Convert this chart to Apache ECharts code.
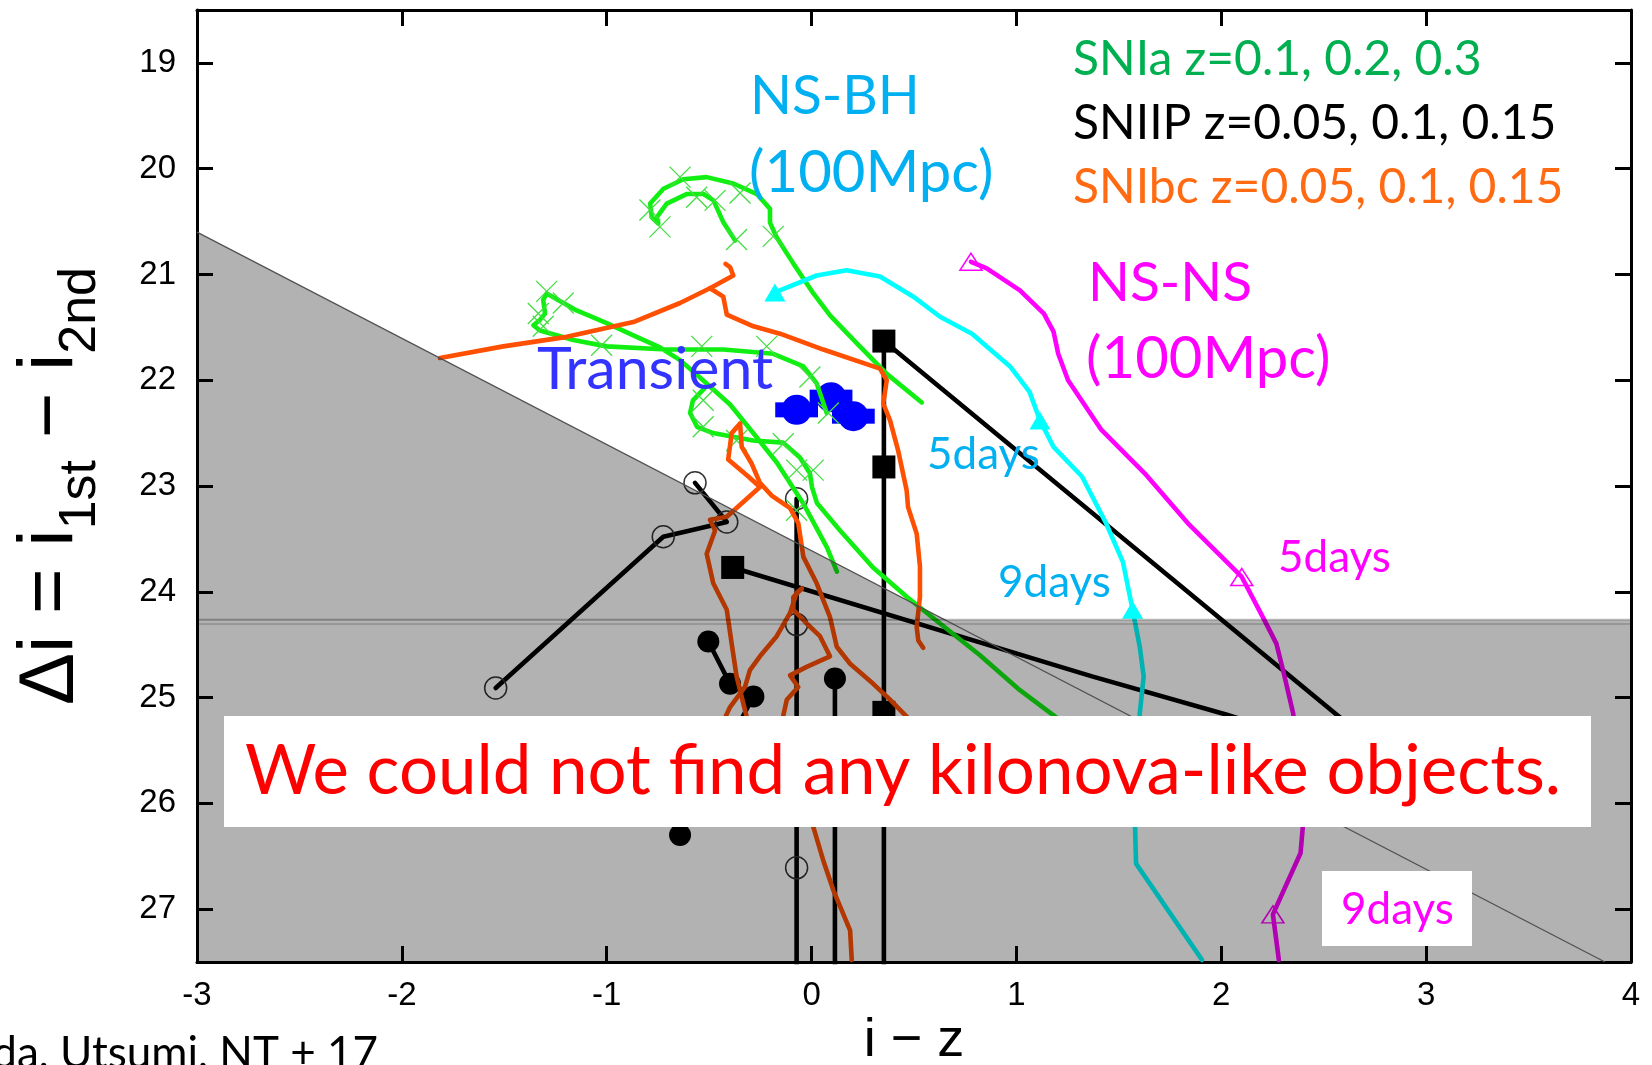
<!DOCTYPE html>
<html>
<head>
<meta charset="utf-8">
<script src="https://cdn.jsdelivr.net/npm/echarts@6/dist/echarts.min.js"></script>
<style>
  html, body { margin: 0; padding: 0; background: #fff; overflow: hidden; }
  #chart { width: 1652px; height: 1065px; }
</style>
</head>
<body>
<div id="chart"></div>
<script>
// ---- axis ticks ----
const xTicks = [-3, -2, -1, 0, 1, 2, 3, 4];
const yTicks = [19, 20, 21, 22, 23, 24, 25, 26, 27];

// ---- SNIa colour tracks (i - z, delta i) ----
const snIaHook = [[-0.373,20.68],[-0.430,20.51],[-0.479,20.30],[-0.528,20.24],[-0.610,20.24],[-0.707,20.33],[-0.756,20.46],[-0.748,20.52],[-0.780,20.46],[-0.788,20.33],[-0.723,20.19],[-0.626,20.10],[-0.512,20.08],[-0.382,20.14],[-0.267,20.24],[-0.203,20.38],[-0.203,20.51],[-0.170,20.65],[-0.088,20.90],[0.009,21.18],[0.091,21.39],[0.220,21.65],[0.367,21.94],[0.538,22.21]];
const snIaCusp = [[0.074,22.31],[0.025,22.03],[-0.040,21.87],[-0.187,21.75],[-0.431,21.71],[-0.707,21.71],[-1.000,21.68],[-1.163,21.62],[-1.326,21.53],[-1.358,21.48],[-1.326,21.43],[-1.301,21.37],[-1.310,21.24],[-1.293,21.18],[-1.147,21.34],[-1.000,21.46],[-0.854,21.59],[-0.740,21.69],[-0.642,21.81],[-0.530,22.00],[-0.398,22.23],[-0.276,22.52],[-0.169,22.78],[-0.042,23.16],[0.075,23.58],[0.124,23.81]];
const snIaLoop = [[-0.520,22.07],[-0.579,22.19],[-0.593,22.31],[-0.559,22.44],[-0.481,22.50],[-0.286,22.57],[-0.139,22.59],[-0.057,22.73],[-0.008,22.88],[0.002,23.01],[0.026,23.16],[0.139,23.42],[0.300,23.77],[0.466,24.05],[0.627,24.30],[0.822,24.60],[1.017,24.93],[1.183,25.17],[1.359,25.45]];
const snIaEpochs = [[-0.789,20.39],[-0.740,20.55],[-0.642,20.08],[-0.561,20.27],[-0.471,20.30],[-0.366,20.67],[-0.349,20.23],[-0.187,20.64],[-1.293,21.16],[-1.212,21.27],[-1.334,21.37],[-1.310,21.49],[-1.025,21.67],[-0.536,21.68],[-0.219,21.68],[-0.008,21.97],[0.082,22.31],[-0.529,22.19],[-0.529,22.44],[-0.366,22.57],[-0.138,22.60],[-0.073,22.85],[0.008,22.85],[-0.073,23.23]];

// ---- SNIIP tracks ----
const iipOpenA = [[-1.542,24.91],[-0.724,23.48],[-0.414,23.34],[-0.569,22.97]];
const iipOpenB = [[-0.073,23.12],[-0.073,24.31],[-0.073,26.61],[-0.073,28.6]];
const iipOpenPts = [[-1.542,24.91],[-0.724,23.48],[-0.414,23.34],[-0.569,22.97],[-0.073,23.12],[-0.073,24.31],[-0.073,26.61]];
const iipDotC = [[-0.504,24.47],[-0.398,24.87],[-0.284,24.99],[-0.642,26.30]];
const iipDotD = [[0.114,24.82],[0.114,28.6]];
const iipDotPts = [[-0.504,24.47],[-0.398,24.87],[-0.284,24.99],[-0.642,26.30],[0.114,24.82]];
const iipSqE = [[2.75,25.46],[0.353,21.63],[0.353,22.82],[0.353,25.14],[0.353,28.6]];
const iipSqF = [[-0.385,23.77],[1.369,24.80],[2.023,25.16],[2.30,25.33]];
const iipSqPts = [[0.353,21.63],[0.353,22.82],[0.353,25.14],[-0.385,23.77]];

// ---- SNIbc tracks ----
const ibcA = [[-1.814,21.79],[-1.505,21.68],[-1.195,21.59],[-0.870,21.45],[-0.642,21.27],[-0.496,21.13],[-0.382,21.01],[-0.398,20.93],[-0.420,20.90]];
const ibcB = [[-0.496,21.13],[-0.431,21.21],[-0.414,21.38],[-0.284,21.49],[-0.154,21.56],[0.057,21.71],[0.334,21.89],[0.367,22.00],[0.350,22.22],[0.383,22.38],[0.422,22.66],[0.464,23.04],[0.471,23.20],[0.513,23.45],[0.529,23.76],[0.529,24.05],[0.513,24.33],[0.521,24.46],[0.545,24.53]];
const ibcC = [[-0.349,22.41],[-0.390,22.50],[-0.407,22.75],[-0.309,22.91],[-0.252,23.01],[-0.414,23.29],[-0.496,23.32],[-0.471,23.42],[-0.512,23.64],[-0.480,23.92],[-0.414,24.17],[-0.390,24.49],[-0.366,24.80],[-0.317,25.18],[-0.276,25.59]];
const ibcD = [[-0.349,22.41],[-0.341,22.63],[-0.292,22.79],[-0.252,22.97],[-0.195,23.09],[-0.105,23.21],[-0.065,23.35],[-0.040,23.67],[0.025,23.92],[0.090,24.24],[0.123,24.52],[0.188,24.68],[0.301,24.87],[0.383,25.02],[0.464,25.18],[0.578,25.40]];
const ibcE = [[-0.048,23.97],[-0.089,24.05],[-0.089,24.17],[-0.024,24.30],[0.041,24.42],[0.090,24.61],[-0.024,24.71],[-0.105,24.79],[-0.065,24.90],[-0.121,25.02],[-0.138,25.17],[-0.081,25.68],[0.008,26.22],[0.057,26.54],[0.106,26.82],[0.188,27.20],[0.196,27.48]];
const ibcF = [[-0.048,23.97],[-0.073,24.01],[-0.105,24.20],[-0.170,24.42],[-0.252,24.61],[-0.301,24.74],[-0.325,24.90],[-0.398,25.09],[-0.472,25.40]];

// ---- kilonova models at 100 Mpc ----
const nsbh = [[-0.179,21.17],[0.025,21.01],[0.171,20.96],[0.334,21.02],[0.497,21.21],[0.627,21.40],[0.783,21.56],[0.969,21.87],[1.064,22.11],[1.115,22.38],[1.181,22.63],[1.320,22.91],[1.437,23.35],[1.520,23.72],[1.567,24.17],[1.602,24.52],[1.621,24.80],[1.602,25.15],[1.579,26.22],[1.584,26.57],[1.906,27.48]];
const nsbhDays = [[-0.179,21.17],[1.115,22.38],[1.567,24.17]];
const nsns = [[0.778,20.88],[0.853,20.94],[1.017,21.15],[1.134,21.37],[1.181,21.54],[1.204,21.75],[1.252,22.00],[1.415,22.47],[1.626,22.88],[1.836,23.35],[2.100,23.86],[2.211,24.27],[2.269,24.49],[2.305,24.77],[2.351,25.15],[2.398,26.22],[2.387,26.47],[2.252,27.05],[2.281,27.48]];
const nsnsDays = [[0.778,20.88],[2.100,23.86],[2.252,27.05]];

// ---- the observed transient ----
const transient = [[-0.073,22.28],[0.095,22.16],[0.204,22.34]];
const transientErr = [0.08, 0.08, 0.08];

// ---- excluded (shaded) region ----
const shadeX = [-3, 0.655, 4, 4, -3];
const shadeY = [20.60, 24.27, 24.27, 27.5, 27.5];
const cutDiag = [[-3, 20.60], [3.873, 27.5]];
const cutFlatA = [[-3, 24.265], [4, 24.265]];
const cutFlatB = [[-3, 24.305], [4, 24.305]];

const GREEN = '#11ee11', ORANGE = '#ff4f00', CYAN = '#00ffff', MAGENTA = '#ff00ff';
const LINE_W = 4.6;

function track(data, color, z) {
  return { type: 'line', data: data, showSymbol: false, symbol: 'none', clip: true, silent: true,
    lineStyle: { color: color, width: LINE_W, cap: 'round', join: 'round' }, z: z, animation: false };
}
function marks(data, symbol, size, itemStyle, z) {
  return { type: 'scatter', data: data, symbol: symbol, symbolSize: size, clip: true, silent: true,
    itemStyle: Object.assign({ opacity: 1 }, itemStyle), z: z, animation: false };
}

const series = [
  // transient with error bars
  { type: 'custom', z: 2, silent: true, animation: false,
    data: transient.map((p, i) => [p[0], p[1], transientErr[i]]),
    renderItem: function (params, api) {
      const x = api.value(0), y = api.value(1), e = api.value(2);
      const a = api.coord([x - e, y]), b = api.coord([x + e, y]);
      return { type: 'group', children: [
        { type: 'line', shape: { x1: a[0], y1: a[1], x2: b[0], y2: b[1] }, style: { stroke: '#0000ff', lineWidth: 5 } },
        { type: 'rect', shape: { x: a[0] - 5, y: a[1] - 7.5, width: 10, height: 15 }, style: { fill: '#0000ff' } },
        { type: 'rect', shape: { x: b[0] - 5, y: b[1] - 7.5, width: 10, height: 15 }, style: { fill: '#0000ff' } }
      ]};
    } },
  marks(transient, 'circle', 30, { color: '#0000ff' }, 2),

  track(iipOpenA, '#000', 3), track(iipOpenB, '#000', 3),
  track(iipDotC, '#000', 3), track(iipDotD, '#000', 3),
  track(iipSqE, '#000', 3), track(iipSqF, '#000', 3),
  marks(iipOpenPts, 'circle', 22, { color: 'rgba(0,0,0,0)', borderColor: '#333', borderWidth: 1.5 }, 3),
  marks(iipDotPts, 'circle', 22, { color: '#000' }, 3),
  marks(iipSqPts, 'rect', 23, { color: '#000' }, 3),

  track(snIaHook, GREEN, 4), track(snIaCusp, GREEN, 4), track(snIaLoop, GREEN, 4),
  marks(snIaEpochs, 'path://M0,0L10,10M10,0L0,10', 21,
    { color: 'rgba(0,0,0,0)', borderColor: '#44dd44', borderWidth: 1.3 }, 4),

  track(ibcA, ORANGE, 5), track(ibcB, ORANGE, 5), track(ibcC, ORANGE, 5),
  track(ibcD, ORANGE, 5), track(ibcE, ORANGE, 5), track(ibcF, ORANGE, 5),

  track(nsbh, CYAN, 6),
  marks(nsbhDays, 'triangle', [21, 18], { color: CYAN }, 6),
  track(nsns, MAGENTA, 6),
  marks(nsnsDays, 'triangle', [22, 17], { color: 'rgba(0,0,0,0)', borderColor: MAGENTA, borderWidth: 1.5 }, 6),

  // excluded region drawn as a translucent shade over the tracks
  { type: 'custom', z: 20, silent: true, clip: true, animation: false, data: [[0, 0]],
    renderItem: function (params, api) {
      return { type: 'polygon',
        shape: { points: shadeX.map((x, i) => api.coord([x, shadeY[i]])) },
        style: { fill: 'rgba(0,0,0,0.3)' } };
    } },
  { type: 'line', data: cutDiag, symbol: 'none', silent: true, z: 21, animation: false,
    lineStyle: { color: '#505050', width: 1.2 } },
  { type: 'line', data: cutFlatA, symbol: 'none', silent: true, z: 21, animation: false,
    lineStyle: { color: 'rgba(0,0,0,0.28)', width: 2 } },
  { type: 'line', data: cutFlatB, symbol: 'none', silent: true, z: 21, animation: false,
    lineStyle: { color: 'rgba(0,0,0,0.2)', width: 1.5 } }
];

const AXIS_FONT = 'Liberation Sans, Arial, sans-serif';
const LABEL_FONT = 'Lato, sans-serif';

function xAx(pos, showLabels, name) {
  return {
    type: 'value', position: pos, min: -3, max: 4, interval: 1,
    axisLine: { show: true, onZero: false, lineStyle: { color: '#000', width: 3 } },
    axisTick: { show: true, inside: true, length: 16, lineStyle: { color: '#000', width: 3 } },
    axisLabel: { show: showLabels, fontSize: 33, fontFamily: AXIS_FONT, color: '#000', margin: 17 },
    splitLine: { show: false },
    name: name || '', nameLocation: 'middle', nameGap: 52, nameMoveOverlap: false,
    nameTextStyle: { fontSize: 54, lineHeight: 54, fontFamily: AXIS_FONT, color: '#000' }
  };
}
function yAx(pos, showLabels, name) {
  return {
    type: 'value', position: pos, inverse: true, min: 18.5, max: 27.5,
    axisLine: { show: true, onZero: false, lineStyle: { color: '#000', width: 3 } },
    axisTick: { show: true, inside: true, length: 16, customValues: yTicks, lineStyle: { color: '#000', width: 3 } },
    axisLabel: { show: showLabels, customValues: yTicks, fontSize: 33, fontFamily: AXIS_FONT, color: '#000', margin: 21 },
    splitLine: { show: false },
    name: name || '', nameLocation: 'middle', nameRotate: 90, nameGap: 90, nameMoveOverlap: false,
    nameTextStyle: {
      color: '#000',
      rich: {
        m: { fontSize: 78, lineHeight: 112, fontFamily: AXIS_FONT, color: '#000' },
        s: { fontSize: 52, lineHeight: 52, verticalAlign: 'bottom', fontFamily: AXIS_FONT, color: '#000' }
      }
    }
  };
}

function txt(text, x, y, color, size, align) {
  return { type: 'text', x: x, y: y, z: 102,
    style: { text: text, fill: color, fontSize: size, fontFamily: LABEL_FONT,
      align: align || 'left', verticalAlign: 'middle',
      textAlign: align || 'left', textVerticalAlign: 'middle' } };
}

const option = {
  animation: false,
  backgroundColor: '#ffffff',
  grid: { left: 197, right: 21, top: 10, bottom: 103, containLabel: false, outerBoundsMode: 'none' },
  xAxis: [xAx('bottom', true, 'i \u2212 z'), xAx('top', false)],
  yAxis: [yAx('left', true, '{m|\u0394i = i}{s|1st}{m| \u2212 i}{s|2nd}'), yAx('right', false)],
  series: series.map(s => Object.assign({ xAxisIndex: 0, yAxisIndex: 0 }, s)),
  graphic: { elements: [
    { type: 'rect', z: 100, shape: { x: 224, y: 716, width: 1367, height: 111 }, style: { fill: '#ffffff' } },
    { type: 'rect', z: 100, shape: { x: 1322, y: 871, width: 150, height: 75 }, style: { fill: '#ffffff' } },
    txt('We could not find any kilonova-like objects.', 903, 772, '#ff0000', 69, 'center'),
    txt('9days', 1341, 910, MAGENTA, 44),
    txt('SNIa z=0.1, 0.2, 0.3', 1073, 60, '#00b050', 48),
    txt('SNIIP z=0.05, 0.1, 0.15', 1073, 124, '#000000', 48),
    txt('SNIbc z=0.05, 0.1, 0.15', 1073, 188, '#ff6a13', 48),
    txt('NS-BH', 750, 96, '#00b0f0', 55),
    txt('(100Mpc)', 749, 173, '#00b0f0', 58),
    txt('NS-NS', 1088, 283, MAGENTA, 55),
    txt('(100Mpc)', 1086, 359, MAGENTA, 58),
    txt('Transient', 537, 370, '#3333ff', 59),
    txt('5days', 927, 455, '#00b0f0', 44),
    txt('9days', 998, 583, '#00b0f0', 44),
    txt('5days', 1278, 558, MAGENTA, 44),
    txt('Yoshida, Utsumi, NT + 17', 378, 1054, '#000000', 44, 'right')
  ] }
};

const chart = echarts.init(document.getElementById('chart'), null, { renderer: 'canvas' });
chart.setOption(option);
</script>
</body>
</html>
